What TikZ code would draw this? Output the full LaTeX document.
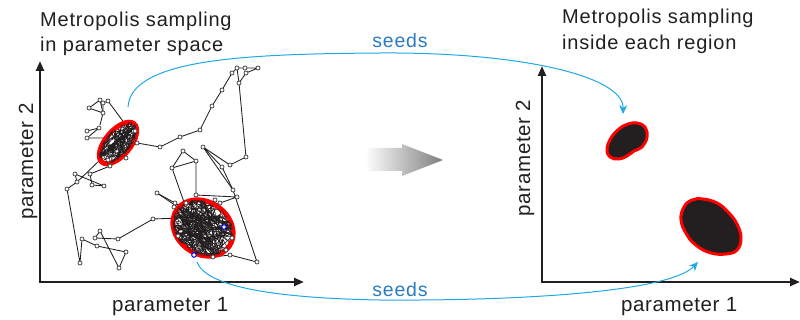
\documentclass[tikz,border=0pt]{standalone}
\usepackage{fontspec}
\setmainfont{Liberation Sans}
\newfontfamily\titlefont[LetterSpace=4]{Liberation Sans}
\newfontfamily\labelfont[LetterSpace=3]{Liberation Sans}
\newfontfamily\seedfont[LetterSpace=4]{Liberation Sans}
\usetikzlibrary{arrows.meta}
\definecolor{axisk}{HTML}{231F20}
\definecolor{seedline}{HTML}{1EA8E4}
\definecolor{seedtext}{HTML}{2A7BC0}
\definecolor{ptgray}{HTML}{3A3A3A}
\tikzset{
  titletext/.style={inner sep=0pt, anchor=base west, font=\titlefont\fontsize{20}{22}\selectfont, text=axisk},
  axislabel/.style={inner sep=0pt, font=\labelfont\fontsize{20.5}{22}\selectfont, text=axisk},
  seedlabel/.style={inner sep=0pt, anchor=base, font=\seedfont\fontsize{19.5}{22}\selectfont, text=seedtext},
  axisline/.style={draw=axisk, line width=2.3pt, -{Triangle[length=10pt,width=8pt]}},
  seedcurve/.style={draw=seedline, line width=1pt, -{Stealth[length=9pt,width=8pt,inset=3pt]}},
  walk/.style={draw=axisk, line width=0.85pt, line join=round},
  tangle/.style={draw=axisk, line width=0.45pt},
  regionring/.style={draw=red, line width=5pt},
  blob/.style={draw=red, line width=3pt, fill=axisk},
  walkpt/.style={draw=ptgray, fill=white, line width=0.7pt},
  bluept/.style={draw=blue, fill=white, line width=1pt}
}
\begin{document}
\begin{tikzpicture}[x=1pt, y=-1pt]
\useasboundingbox (0,0) rectangle (800,320);

% ---------- left plot: random walk ----------
\draw[walk] (67,189) -- (80,263) -- (82,239) -- (97,246) -- (126,252) -- (119,268) -- (100,231) -- (95,238) -- (118,239) -- (153,219) -- (180,218);
\draw[walk] (67,189) -- (77,182) -- (75,174) -- (104,186) -- (92,185) -- (90,174) -- (110,166) -- (108,156);
\draw[walk] (77,182) -- (100,160);
\draw[walk] (87,131) -- (99,128) -- (87,138) -- (104,138);
\draw[walk] (100,100) -- (89,108) -- (103,113) -- (103,103) -- (108,101) -- (128,128);
\draw[walk] (100,100) -- (103,113) -- (100,125);
\draw[walk] (128,134) -- (137,143) -- (160,147) -- (180,137) -- (200,130) -- (212,106) -- (222,90) -- (232,73) -- (237,68) -- (245,68) -- (258,68) -- (246,73) -- (239,83) -- (246,157) -- (230,165) -- (203,147) -- (222,167) -- (233,190) -- (257,262) -- (230,255) -- (213,257) -- (200,250);
\draw[walk] (237,68) -- (239,83);
\draw[walk] (183,151) -- (172,168) -- (196,161) -- (183,151);
\draw[walk] (196,161) -- (196,195) -- (237,197) -- (220,203) -- (205,206);
\draw[walk] (203,147) -- (233,190);
\draw[walk] (157,193) -- (175,203) -- (190,212);
\draw[walk] (157,193) -- (200,222);
\draw[walk] (172,168) -- (185,205);

% ---------- dense clusters ----------
\pgfmathsetseed{4242}
\begin{scope}[shift={(118,143)}, rotate=50]
  \draw[regionring] (0,0) ellipse [x radius=25, y radius=12.5];
  \clip (0,0) ellipse [x radius=25, y radius=12.5];
  \draw[tangle] plot[samples=110, domain=0:1] ({27*rand},{14*rand});
\end{scope}
\begin{scope}[shift={(203,228)}, rotate=-35]
  \draw[regionring] (0,0) ellipse [x radius=32, y radius=26];
  \clip (0,0) ellipse [x radius=32, y radius=26];
  \draw[tangle] plot[samples=220, domain=0:1] ({34*rand},{28*rand});
\end{scope}

% ---------- walk points ----------
\foreach \p in {(67,189),(80,263),(82,239),(97,246),(126,252),(119,268),(100,231),(95,238),(118,239),(153,219),
  (77,182),(75,174),(104,186),(92,185),(90,174),(110,166),
  (87,131),(99,128),(87,138),(100,100),(89,108),(103,113),(103,103),(108,101),
  (137,143),(160,147),(180,137),(200,130),(212,106),(222,90),(232,73),(237,68),(245,68),(258,68),(246,73),(239,83),
  (246,157),(230,165),(203,147),(222,167),(233,190),(257,262),(230,255),(213,257),
  (183,151),(172,168),(196,161),(196,195),(237,197),(220,203),(157,193),(175,203),
  (135,131),(126,158),(108,160),(174,207),(232,238),(226,250),(178,236),(186,203),(215,200)}
  \draw[walkpt] \p circle[radius=2pt];
\draw[bluept] (224,227) circle[radius=2.3pt];
\draw[bluept] (194,255) circle[radius=2.3pt];

% ---------- axes ----------
\coordinate (yL) at (40,61);
\coordinate (xL) at (304,282);
\coordinate (yR) at (542,66);
\coordinate (xR) at (800,282);
\draw[axisline] (40,283.15) -- (yL);
\draw[axisline] (38.85,282) -- (xL);
\draw[axisline] (542,283.15) -- (yR);
\draw[axisline] (540.85,282) -- (xR);

% ---------- right plot: regions ----------
\draw[blob] plot[smooth cycle, tension=0.7] coordinates {(637,123) (645,127) (647,137) (642,147) (634,151) (627,156) (619,159) (610,157) (607,149) (611,138) (619,129) (628,124)};
\draw[blob] plot[smooth cycle, tension=0.7] coordinates {(703,199) (717,203) (728,212) (737,224) (741,238) (737,250) (726,254) (711,253) (697,246) (687,235) (681,220) (684,207) (692,200)};

% ---------- gray arrow ----------
\shade[left color=white, right color={rgb,255:red,125;green,125;blue,125}]
  (365,148) -- (402,148) -- (402,144) -- (443,160) -- (402,176) -- (402,171) -- (365,171) -- cycle;

% ---------- seeds curves ----------
\coordinate (s1) at (128,107);
\coordinate (m1) at (380,53);
\coordinate (e1) at (623,114);
\coordinate (s2) at (197,262);
\coordinate (m2) at (380,300);
\coordinate (e2) at (698,262);
\draw[seedcurve] (s1) .. controls (131,58) and (250,54) .. (m1) .. controls (520,52) and (624,76) .. (e1);
\draw[seedcurve] (s2) .. controls (206,286) and (270,298) .. (m2) .. controls (520,301) and (670,292) .. (e2);

% ---------- texts ----------
\node[titletext] (tl1) at (40,26.5) {Metropolis sampling};
\node[titletext] (tl2) at (40,51.5) {in parameter space};
\node[titletext] (tr1) at (562,24) {Metropolis sampling};
\node[titletext] (tr2) at (562,49.5) {inside each region};
\node[axislabel, anchor=base west] (xlabL) at (112,311) {parameter 1};
\node[axislabel, anchor=base west] (xlabR) at (621,311.5) {parameter 1};
\node[axislabel, anchor=base, rotate=90] (ylabL) at (33,161.5) {parameter 2};
\node[axislabel, anchor=base, rotate=90] (ylabR) at (530,158) {parameter 2};
\node[seedlabel] (seedT) at (400,48) {seeds};
\node[seedlabel] (seedB) at (400,296.5) {seeds};
\end{tikzpicture}
\end{document}
